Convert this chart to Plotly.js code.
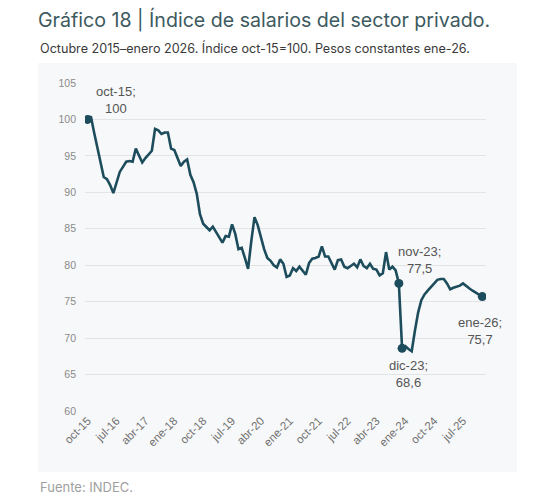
<!DOCTYPE html>
<html>
<head>
<meta charset="utf-8">
<script src="https://cdn.plot.ly/plotly-3.0.1.min.js"></script>
<style>html,body{margin:0;padding:0;background:#fff;}#chart{width:543px;height:500px;}</style>
</head>
<body>
<div id="chart"></div>
<script>
const months = [
 "oct-15","nov-15","dic-15",
 "ene-16","feb-16","mar-16","abr-16","may-16","jun-16","jul-16","ago-16","sep-16","oct-16","nov-16","dic-16",
 "ene-17","feb-17","mar-17","abr-17","may-17","jun-17","jul-17","ago-17","sep-17","oct-17","nov-17","dic-17",
 "ene-18","feb-18","mar-18","abr-18","may-18","jun-18","jul-18","ago-18","sep-18","oct-18","nov-18","dic-18",
 "ene-19","feb-19","mar-19","abr-19","may-19","jun-19","jul-19","ago-19","sep-19","oct-19","nov-19","dic-19",
 "ene-20","feb-20","mar-20","abr-20","may-20","jun-20","jul-20","ago-20","sep-20","oct-20","nov-20","dic-20",
 "ene-21","feb-21","mar-21","abr-21","may-21","jun-21","jul-21","ago-21","sep-21","oct-21","nov-21","dic-21",
 "ene-22","feb-22","mar-22","abr-22","may-22","jun-22","jul-22","ago-22","sep-22","oct-22","nov-22","dic-22",
 "ene-23","feb-23","mar-23","abr-23","may-23","jun-23","jul-23","ago-23","sep-23","oct-23","nov-23","dic-23",
 "ene-24","feb-24","mar-24","abr-24","may-24","jun-24","jul-24","ago-24","sep-24","oct-24","nov-24","dic-24",
 "ene-25","feb-25","mar-25","abr-25","may-25","jun-25","jul-25","ago-25","sep-25","oct-25","nov-25","dic-25",
 "ene-26"
];

const indexValues = [
 100.0, 100.4, 98.2, 96.0, 93.9, 92.1, 91.8, 91.0, 89.9, 91.5,
 92.8, 93.5, 94.2, 94.3, 94.2, 96.0, 95.0, 94.1, 94.7, 95.2,
 95.7, 98.7, 98.5, 98.0, 98.2, 98.2, 96.0, 95.8, 94.8, 93.6,
 94.2, 94.5, 92.4, 91.4, 89.8, 87.0, 85.7, 85.2, 84.8, 85.3,
 84.5, 83.7, 83.1, 84.0, 83.9, 85.6, 84.3, 82.2, 82.4, 81.0,
 79.5, 83.3, 86.6, 85.5, 83.8, 82.2, 81.0, 80.6, 80.0, 79.7,
 80.8, 80.2, 78.4, 78.6, 79.6, 79.2, 79.8, 79.3, 78.7, 80.3,
 80.9, 81.0, 81.2, 82.6, 81.2, 81.2, 80.2, 79.4, 80.7, 80.8,
 79.8, 79.6, 79.9, 80.2, 79.7, 80.8, 79.9, 79.6, 80.2, 79.5,
 79.4, 78.6, 78.9, 81.8, 79.4, 79.8, 79.3, 77.5, 68.6, 68.9,
 68.5, 68.2, 71.0, 73.5, 75.2, 76.0, 76.5, 77.0, 77.4, 78.0,
 78.1, 78.1, 77.5, 76.7, 76.9, 77.0, 77.2, 77.5, 77.1, 76.8,
 76.5, 76.2, 75.9, 75.7
];

const tickLabels = ["oct-15","jul-16","abr-17","ene-18","oct-18","jul-19","abr-20","ene-21","oct-21","jul-22","abr-23","ene-24","oct-24","jul-25"];
const yTicks = [60, 65, 70, 75, 80, 85, 90, 95, 100, 105];

const highlightMonths = ["oct-15","nov-23","dic-23","ene-26"];
const highlightLabels = ["oct-15;<br>100","nov-23;<br>77,5","dic-23;<br>68,6","ene-26;<br>75,7"];
const highlightValues = highlightMonths.map(m => indexValues[months.indexOf(m)]);
const labelShifts = [[28,19],[21,23],[6,-26],[-2,-34]];

const lineColor = "#1d4d5d";

const traces = [
 {x: months, y: indexValues, type: "scatter", mode: "lines",
  line: {color: lineColor, width: 2.6, shape: "linear"}, hoverinfo: "x+y"},
 {x: highlightMonths, y: highlightValues, type: "scatter", mode: "markers",
  marker: {color: lineColor, size: 9}, hoverinfo: "x+y"}
];

const annotations = highlightMonths.map((m, k) => ({
  x: m, y: highlightValues[k], xref: "x", yref: "y",
  text: highlightLabels[k], showarrow: false,
  xshift: labelShifts[k][0], yshift: labelShifts[k][1],
  font: {family: "Liberation Sans, Arial, sans-serif", size: 13, color: "#555"},
  align: "center"
}));

annotations.push({
  xref: "paper", yref: "paper", x: -0.117, y: 1.106, xanchor: "left", yanchor: "middle",
  text: "Octubre 2015\u2013enero 2026. \u00cdndice oct-15=100. Pesos constantes ene-26.",
  showarrow: false, font: {family: "Inter, Open Sans, sans-serif", size: 12.6, color: "#3a3a3a"}
});
annotations.push({
  xref: "paper", yref: "paper", x: -0.117, y: -0.232, xanchor: "left", yanchor: "middle",
  text: "Fuente: INDEC.",
  showarrow: false, font: {family: "Inter, Open Sans, sans-serif", size: 13, color: "#a0a0a0"}
});

const layout = {
  width: 543, height: 500,
  margin: {l: 85, r: 57, t: 83, b: 89},
  paper_bgcolor: "#ffffff", plot_bgcolor: "rgba(0,0,0,0)",
  showlegend: false,
  title: {text: "Gr\u00e1fico 18 | \u00cdndice de salarios del sector privado.",
    xref: "container", yref: "container", x: 38/543, xanchor: "left", y: 1 - 20/500, yanchor: "middle",
    font: {family: "Inter, Open Sans, sans-serif", size: 19.6, color: "#3d5a60"}},
  xaxis: {type: "category", range: [-0.84, 124.16], tickmode: "array", tickvals: tickLabels, ticktext: tickLabels,
    tickangle: -45, showgrid: false, zeroline: false, showline: false, ticks: "",
    tickfont: {family: "Liberation Sans, Arial, sans-serif", size: 11.5, color: "#707070"}, fixedrange: true},
  yaxis: {range: [60, 105], tickmode: "array", tickvals: yTicks, showgrid: true, gridcolor: "#e3e4e6", gridwidth: 1.3,
    zeroline: false, showline: false, ticks: "", ticklabelstandoff: 8,
    tickfont: {family: "Liberation Sans, Arial, sans-serif", size: 10.5, color: "#8a8a8a"}, fixedrange: true},
  shapes: [{type: "rect", xref: "paper", yref: "paper", x0: -0.117, x1: 1.077, y0: -0.186, y1: 1.061,
    fillcolor: "#f7f8f9", line: {width: 0}, layer: "below"}],
  annotations: annotations
};

Plotly.newPlot("chart", traces, layout, {displayModeBar: false});
</script>
</body>
</html>
